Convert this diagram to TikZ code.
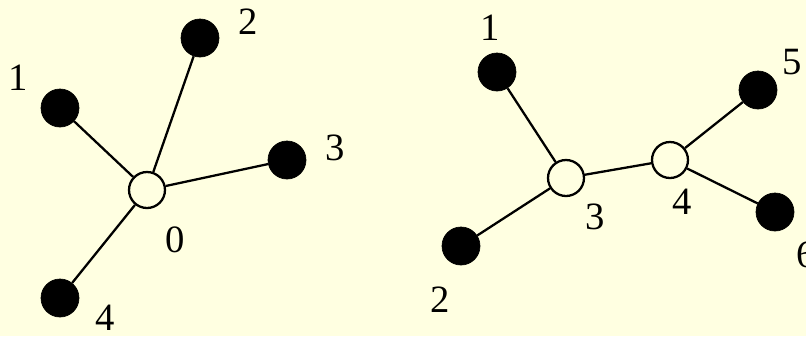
\documentclass[tikz,border=0pt]{standalone}
\usepackage{fontspec}
\setmainfont{Liberation Serif}
\usetikzlibrary{positioning}
\definecolor{paper}{RGB}{255,255,225}

\begin{document}
\begin{tikzpicture}[
  x=0.02cm, y=-0.02cm,
  every node/.style={font=\fontsize{22}{26}\selectfont},
  leaf/.style={circle,fill=black,draw=black,minimum size=0.76cm,inner sep=0pt},
  hub/.style={circle,fill=paper,draw=black,line width=1.3pt,minimum size=0.72cm,inner sep=0pt},
  edge/.style={line width=1.3pt}
]
  \fill[paper] (0,0) rectangle (806,336);
  \useasboundingbox (0,0) rectangle (806,336);

  % 左の星形
  \node[hub]  (a0) at (147,190) {};
  \node[leaf] (a1) at (60,108)  {};
  \node[leaf] (a2) at (200,38)  {};
  \node[leaf] (a3) at (287,160) {};
  \node[leaf] (a4) at (60,298)  {};
  \foreach \i in {1,...,4}
    \draw[edge] (a0) -- (a\i);

  \node (la0) at (175,240) {0};
  \node (la1) at (18,78)   {1};
  \node (la2) at (248,22)  {2};
  \node (la3) at (335,148) {3};
  \node (la4) at (105,318) {4};

  % 右の木
  \node[hub]  (b3) at (566,178) {};
  \node[hub]  (b4) at (670,160) {};
  \node[leaf] (b1) at (497,72)  {};
  \node[leaf] (b2) at (461,246) {};
  \node[leaf] (b5) at (758,90)  {};
  \node[leaf] (b6) at (775,212) {};
  \draw[edge] (b3) -- (b1);
  \draw[edge] (b3) -- (b2);
  \draw[edge] (b3) -- (b4);
  \draw[edge] (b4) -- (b5);
  \draw[edge] (b4) -- (b6);

  \node (lb1) at (490,28)  {1};
  \node (lb2) at (440,300) {2};
  \node (lb3) at (595,217) {3};
  \node (lb4) at (682,202) {4};
  \node (lb5) at (792,62)  {5};
  \node (lb6) at (806,255) {6};
\end{tikzpicture}
\end{document}
